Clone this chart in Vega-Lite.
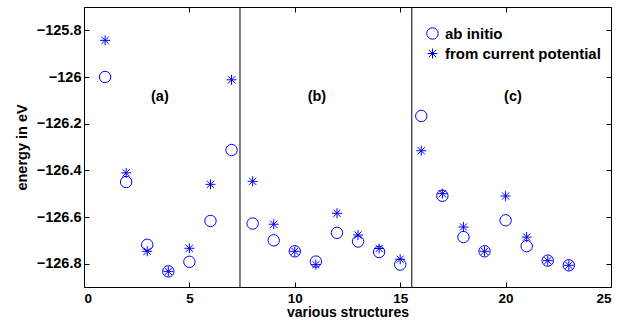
{
  "$schema": "https://vega.github.io/schema/vega-lite/v6.json",
  "width": 527,
  "height": 280,
  "autosize": {"type": "none"},
  "padding": {"left": 84, "top": 7, "right": 18, "bottom": 33},
  "config": {
    "font": "Liberation Sans",
    "view": {"stroke": "black", "strokeWidth": 1},
    "axis": {
      "domain": false,
      "grid": false,
      "ticks": true,
      "tickColor": "black",
      "tickSize": 5,
      "offset": -5,
      "labelFont": "Liberation Sans",
      "labelFontWeight": "bold",
      "labelFontSize": 14.5,
      "labelColor": "black",
      "titleFont": "Liberation Sans",
      "titleFontWeight": "bold",
      "titleFontSize": 14.5,
      "titleColor": "black"
    },
    "legend": {
      "labelFont": "Liberation Sans",
      "labelFontWeight": "bold",
      "labelFontSize": 15,
      "labelColor": "black"
    }
  },
  "layer": [
    {
      "data": {"values": [{"x": 7.4}, {"x": 15.55}]},
      "mark": {"type": "rule", "color": "black", "strokeWidth": 1},
      "encoding": {
        "x": {"field": "x", "type": "quantitative", "scale": {"domain": [0, 25], "nice": false},
              "axis": {"orient": "top", "labels": false, "title": null, "values": [0, 5, 10, 15, 20, 25]}}
      }
    },
    {
      "data": {"values": [
        {"s": 1, "energy": -126.0, "series": "ab initio"},
        {"s": 2, "energy": -126.45, "series": "ab initio"},
        {"s": 3, "energy": -126.719, "series": "ab initio"},
        {"s": 4, "energy": -126.833, "series": "ab initio"},
        {"s": 5, "energy": -126.792, "series": "ab initio"},
        {"s": 6, "energy": -126.617, "series": "ab initio"},
        {"s": 7, "energy": -126.313, "series": "ab initio"},
        {"s": 8, "energy": -126.628, "series": "ab initio"},
        {"s": 9, "energy": -126.70, "series": "ab initio"},
        {"s": 10, "energy": -126.747, "series": "ab initio"},
        {"s": 11, "energy": -126.791, "series": "ab initio"},
        {"s": 12, "energy": -126.668, "series": "ab initio"},
        {"s": 13, "energy": -126.705, "series": "ab initio"},
        {"s": 14, "energy": -126.75, "series": "ab initio"},
        {"s": 15, "energy": -126.804, "series": "ab initio"},
        {"s": 16, "energy": -126.167, "series": "ab initio"},
        {"s": 17, "energy": -126.509, "series": "ab initio"},
        {"s": 18, "energy": -126.686, "series": "ab initio"},
        {"s": 19, "energy": -126.747, "series": "ab initio"},
        {"s": 20, "energy": -126.614, "series": "ab initio"},
        {"s": 21, "energy": -126.725, "series": "ab initio"},
        {"s": 22, "energy": -126.787, "series": "ab initio"},
        {"s": 23, "energy": -126.807, "series": "ab initio"},
        {"s": 1, "energy": -125.843, "series": "from current potential"},
        {"s": 2, "energy": -126.411, "series": "from current potential"},
        {"s": 3, "energy": -126.747, "series": "from current potential"},
        {"s": 4, "energy": -126.833, "series": "from current potential"},
        {"s": 5, "energy": -126.734, "series": "from current potential"},
        {"s": 6, "energy": -126.46, "series": "from current potential"},
        {"s": 7, "energy": -126.012, "series": "from current potential"},
        {"s": 8, "energy": -126.447, "series": "from current potential"},
        {"s": 9, "energy": -126.631, "series": "from current potential"},
        {"s": 10, "energy": -126.747, "series": "from current potential"},
        {"s": 11, "energy": -126.804, "series": "from current potential"},
        {"s": 12, "energy": -126.584, "series": "from current potential"},
        {"s": 13, "energy": -126.677, "series": "from current potential"},
        {"s": 14, "energy": -126.735, "series": "from current potential"},
        {"s": 15, "energy": -126.781, "series": "from current potential"},
        {"s": 16, "energy": -126.316, "series": "from current potential"},
        {"s": 17, "energy": -126.50, "series": "from current potential"},
        {"s": 18, "energy": -126.643, "series": "from current potential"},
        {"s": 19, "energy": -126.747, "series": "from current potential"},
        {"s": 20, "energy": -126.51, "series": "from current potential"},
        {"s": 21, "energy": -126.686, "series": "from current potential"},
        {"s": 22, "energy": -126.787, "series": "from current potential"},
        {"s": 23, "energy": -126.807, "series": "from current potential"}
      ]},
      "mark": {"type": "point", "filled": false, "strokeWidth": 1, "opacity": 1},
      "encoding": {
        "x": {"field": "s", "type": "quantitative", "scale": {"domain": [0, 25], "nice": false},
              "axis": {"title": "various structures", "titleFontSize": 14, "labelFontSize": 13.5, "values": [0, 5, 10, 15, 20, 25], "labelPadding": 4, "titlePadding": 1}},
        "y": {"field": "energy", "type": "quantitative", "scale": {"domain": [-126.9, -125.7], "nice": false, "zero": false},
              "axis": {"title": "energy in eV", "values": [-126.8, -126.6, -126.4, -126.2, -126, -125.8], "format": ".4~r", "labelPadding": 3, "titlePadding": 7}},
        "shape": {"field": "series", "type": "nominal",
                  "scale": {"domain": ["ab initio", "from current potential"],
                            "range": ["circle", "M-1,0L1,0M0,-1L0,1M-0.72,-0.72L0.72,0.72M-0.72,0.72L0.72,-0.72"]},
                  "legend": {"title": null, "orient": "none", "legendX": 341, "legendY": 19, "rowPadding": 4, "labelOffset": 5, "symbolStrokeWidth": 1}},
        "color": {"field": "series", "type": "nominal",
                  "scale": {"domain": ["ab initio", "from current potential"], "range": ["#0000ff", "#0000ff"]}},
        "size": {"field": "series", "type": "nominal",
                 "scale": {"domain": ["ab initio", "from current potential"], "range": [130, 100]}}
      }
    },
    {
      "data": {"values": [
        {"s": 3.6, "energy": -126.087, "label": "(a)"},
        {"s": 11.05, "energy": -126.087, "label": "(b)"},
        {"s": 20.35, "energy": -126.087, "label": "(c)"}
      ]},
      "mark": {"type": "text", "font": "Liberation Sans", "fontWeight": "bold", "fontSize": 14.5, "color": "black"},
      "encoding": {
        "x": {"field": "s", "type": "quantitative", "axis": null},
        "y": {"field": "energy", "type": "quantitative",
              "axis": {"orient": "right", "labels": false, "title": null, "values": [-126.8, -126.6, -126.4, -126.2, -126, -125.8]}},
        "text": {"field": "label", "type": "nominal"}
      }
    }
  ],
  "resolve": {"axis": {"x": "independent", "y": "independent"}}
}
